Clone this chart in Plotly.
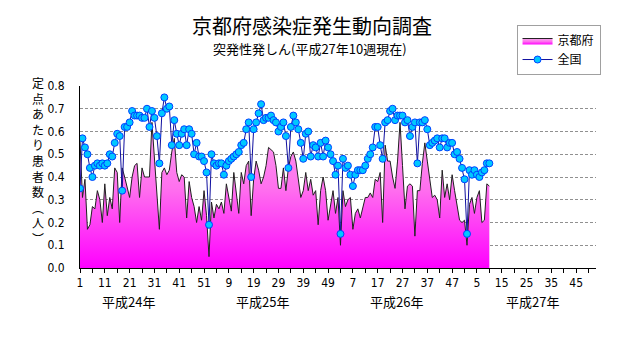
import plotly.graph_objects as go

# ---------------- data ----------------
weeks_per_year = [52, 52, 52, 53]          # H24, H25, H26, H27
year_labels = ["平成24年", "平成25年", "平成26年", "平成27年"]
week_tick_labels = ["1", "11", "21", "31", "41", "51", "9", "19", "29", "39", "49",
                    "7", "17", "27", "37", "47", "5", "15", "25", "35", "45"]

kyoto = [
    0.56, 0.31, 0.39, 0.17, 0.19, 0.27, 0.26, 0.34, 0.30, 0.20,
    0.37, 0.23, 0.31, 0.26, 0.44, 0.42, 0.20, 0.44, 0.40, 0.36,
    0.31, 0.40, 0.45, 0.46, 0.31, 0.44, 0.40, 0.40, 0.40, 0.64,
    0.47, 0.34, 0.17, 0.42, 0.44, 0.41, 0.43, 0.51, 0.57, 0.42,
    0.38, 0.41, 0.40, 0.22, 0.38, 0.31, 0.27, 0.20, 0.27, 0.21,
    0.34, 0.23, 0.05, 0.29, 0.22, 0.28, 0.26, 0.29, 0.24, 0.37,
    0.31, 0.25, 0.42, 0.34, 0.24, 0.42, 0.37, 0.45, 0.47, 0.23,
    0.39, 0.47, 0.43, 0.37, 0.40, 0.45, 0.53, 0.52, 0.51, 0.45,
    0.35, 0.35, 0.44, 0.34, 0.44, 0.49, 0.51, 0.47, 0.39, 0.31,
    0.34, 0.42, 0.34, 0.39, 0.32, 0.34, 0.19, 0.34, 0.40, 0.34,
    0.21, 0.27, 0.34, 0.24, 0.31, 0.10, 0.34, 0.27, 0.30, 0.31,
    0.17, 0.24, 0.26, 0.22, 0.26, 0.31, 0.31, 0.33, 0.31, 0.39,
    0.38, 0.42, 0.20, 0.54, 0.47, 0.47, 0.40, 0.35, 0.47, 0.64,
    0.45, 0.26, 0.36, 0.37, 0.36, 0.14, 0.34, 0.34, 0.46, 0.55,
    0.47, 0.39, 0.31, 0.32, 0.30, 0.22, 0.43, 0.31, 0.37, 0.30,
    0.41, 0.34, 0.27, 0.21, 0.20, 0.21, 0.10, 0.28, 0.31, 0.24,
    0.31, 0.34, 0.20, 0.21, 0.37, 0.36,
]

national = [
    0.35, 0.57, 0.53, 0.50, 0.44, 0.40, 0.45, 0.46, 0.45, 0.46,
    0.45, 0.46, 0.50, 0.49, 0.55, 0.59, 0.58, 0.34, 0.62, 0.62,
    0.64, 0.69, 0.67, 0.67, 0.67, 0.66, 0.66, 0.70, 0.62, 0.69,
    0.66, 0.58, 0.46, 0.68, 0.75, 0.70, 0.71, 0.54, 0.65, 0.59,
    0.54, 0.59, 0.61, 0.54, 0.61, 0.59, 0.50, 0.55, 0.49, 0.49,
    0.47, 0.42, 0.19, 0.50, 0.46, 0.45, 0.46, 0.46, 0.41, 0.45,
    0.47, 0.48, 0.49, 0.50, 0.51, 0.54, 0.55, 0.61, 0.64, 0.40,
    0.61, 0.64, 0.68, 0.72, 0.65, 0.66, 0.66, 0.67, 0.65, 0.64,
    0.60, 0.62, 0.64, 0.58, 0.44, 0.62, 0.67, 0.64, 0.61, 0.55,
    0.48, 0.59, 0.60, 0.49, 0.54, 0.53, 0.49, 0.55, 0.49, 0.56,
    0.53, 0.50, 0.47, 0.41, 0.45, 0.15, 0.48, 0.44, 0.45, 0.41,
    0.36, 0.41, 0.43, 0.43, 0.43, 0.45, 0.48, 0.50, 0.53, 0.62,
    0.62, 0.54, 0.48, 0.64, 0.65, 0.69, 0.70, 0.65, 0.67, 0.67,
    0.67, 0.64, 0.65, 0.58, 0.62, 0.64, 0.46, 0.64, 0.64, 0.65,
    0.61, 0.54, 0.55, 0.56, 0.57, 0.53, 0.57, 0.57, 0.53, 0.55,
    0.55, 0.50, 0.51, 0.48, 0.44, 0.39, 0.15, 0.43, 0.41, 0.43,
    0.41, 0.40, 0.42, 0.43, 0.46, 0.46,
]

# ---------------- derived ----------------
n_total = sum(weeks_per_year)
idx_k = list(range(1, len(kyoto) + 1))
idx_n = list(range(1, len(national) + 1))
tickvals = list(range(1, n_total + 1, 5))
ticktext = [week_tick_labels[k // 2] if k % 2 == 0 else "" for k in range(len(tickvals))]

JP = "Noto Sans CJK JP"
NUM = "Liberation Sans Narrow, DejaVu Sans Condensed, Liberation Sans"

fig = go.Figure()
fig.add_trace(go.Scatter(
    x=idx_k, y=kyoto, name="京都府", mode="lines",
    line=dict(color="#202020", width=1),
    fill="tozeroy",
    fillgradient=dict(type="vertical", start=0, stop=0.7,
                      colorscale=[[0, "#ff00ff"], [0.5, "#ff70ee"], [1, "#f8a8ee"]]),
))
fig.add_trace(go.Scatter(
    x=idx_n, y=national, name="全国", mode="lines+markers",
    line=dict(color="#1010a0", width=1),
    marker=dict(size=7, color="#00c8ff", line=dict(color="#0040ff", width=1)),
))

fig.update_layout(
    width=631, height=347,
    margin=dict(l=80, r=35, t=86, b=79),
    paper_bgcolor="white", plot_bgcolor="white",
    showlegend=True,
    legend=dict(x=0.846, y=1.335, xanchor="left", yanchor="top",
                bordercolor="#a0a0a0", borderwidth=1, bgcolor="white",
                font=dict(family=JP, size=12, color="black"),
                itemwidth=30, tracegroupgap=0),
    xaxis=dict(range=[1, n_total], tickmode="array", tickvals=tickvals, ticktext=ticktext,
               ticks="outside", ticklen=4, tickcolor="black",
               showline=True, linecolor="black", linewidth=1,
               showgrid=False, zeroline=False,
               tickfont=dict(family=NUM, size=12, color="black")),
    yaxis=dict(range=[0, 0.8], dtick=0.1, tickformat=".1f",
               showline=True, linecolor="black", linewidth=1,
               showgrid=True, gridcolor="#909090", griddash="3px,2px", gridwidth=1,
               zeroline=False, ticks="", ticklabelstandoff=12,
               tickfont=dict(family=NUM, size=12, color="black")),
)

ann = []
ann.append(dict(text="京都府感染症発生動向調査", xref="paper", yref="paper",
                x=(311.7 - 80) / 516, y=(268.3 - 25) / 182.3, showarrow=False,
                xanchor="center", yanchor="middle",
                font=dict(family=JP, size=20, color="black")))
ann.append(dict(text="突発性発しん(平成27年10週現在)", xref="paper", yref="paper",
                x=(310 - 80) / 516, y=(268.3 - 48.7) / 182.3, showarrow=False,
                xanchor="center", yanchor="middle",
                font=dict(family=JP, size=13, color="black")))

# vertical y-axis title (one character per line)
ytitle_chars = ["定", "点", "あ", "た", "り", "患", "者", "数", "︵", "人", "︶"]
ann.append(dict(text="<br>".join(ytitle_chars), xref="paper", yref="paper",
                x=(38 - 80) / 516, y=(268.3 - 161) / 182.3,
                showarrow=False, xanchor="center", yanchor="middle", align="center",
                font=dict(family=JP, size=12, color="black")))

# year labels below the week ticks
year_pos = [20.7, 74.5, 128.7, 183.6]
for lab, xp in zip(year_labels, year_pos):
    ann.append(dict(text=lab, xref="x", yref="paper", x=xp, y=(268.3 - 301.7) / 182.3,
                    showarrow=False, xanchor="center", yanchor="middle",
                    font=dict(family=JP, size=13, color="black")))

fig.update_layout(annotations=ann)
fig.write_html("out.html")
